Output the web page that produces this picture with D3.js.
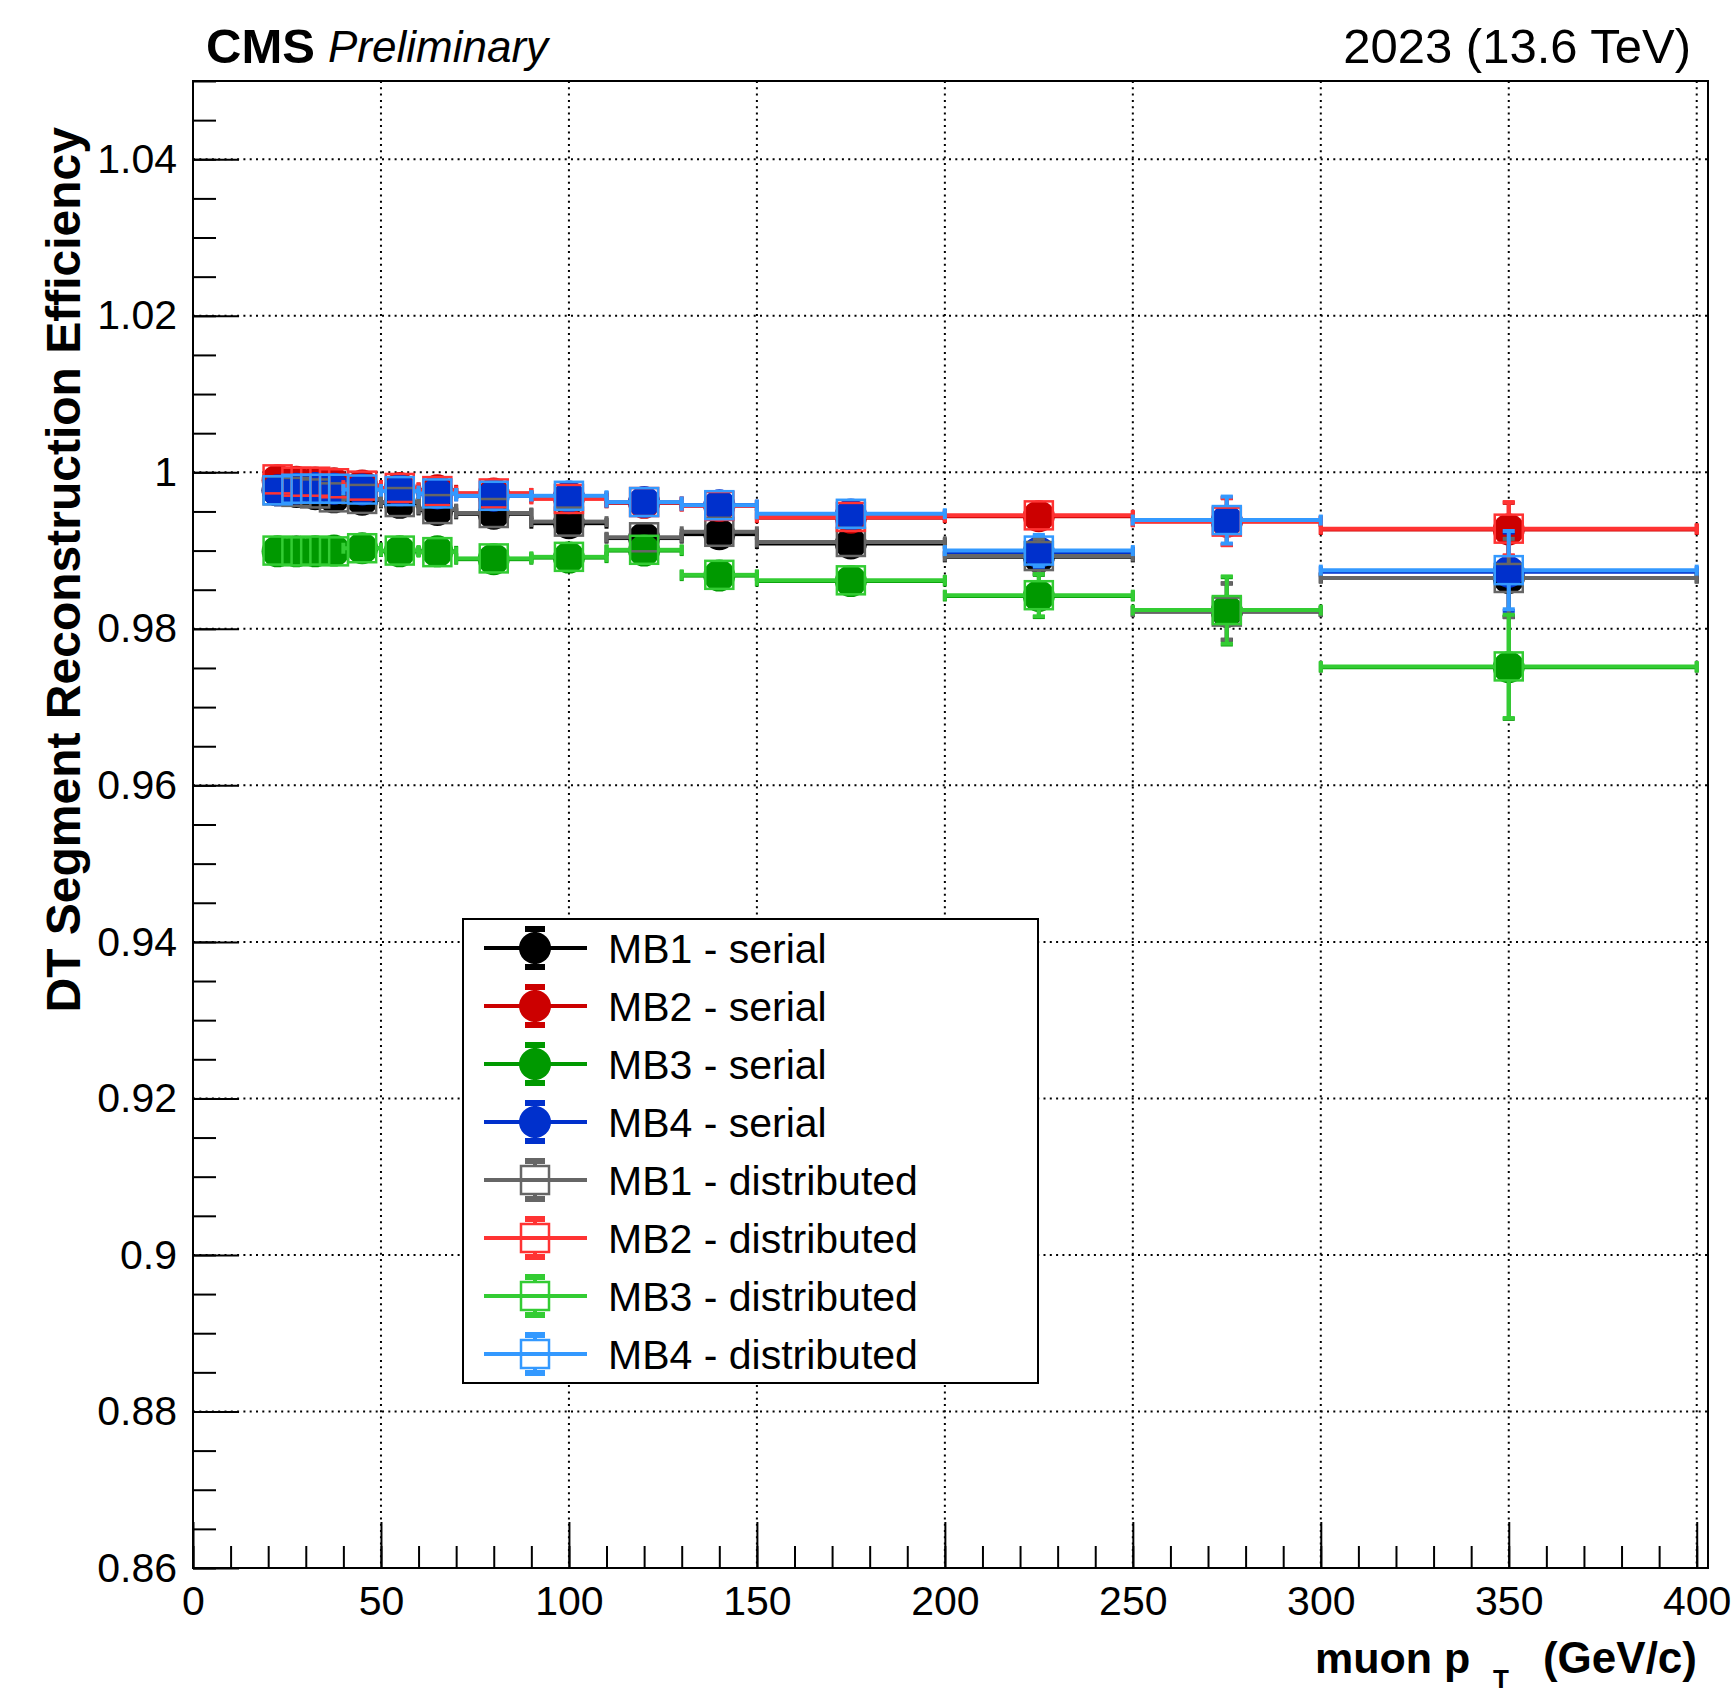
<!DOCTYPE html>
<html>
<head>
<meta charset="utf-8">
<script src="https://cdn.jsdelivr.net/npm/d3@7"></script>
<style>
  body { margin: 0; background: #fff; }
  text { font-family: "Liberation Sans", Arial, Helvetica, sans-serif; }
</style>
</head>
<body>
<script>
// muon pT bins (GeV/c)
const binCenters    = [22.5, 27.5, 32.5, 37.5, 45, 55, 65, 80, 100, 120, 140, 175, 225, 275, 350];
const binHalfWidths = [2.5, 2.5, 2.5, 2.5, 5, 5, 5, 10, 10, 10, 10, 25, 25, 25, 50];

// efficiencies, serial unpacker
const effMB1Serial = [0.9977, 0.9975, 0.9972, 0.9968, 0.9965, 0.9961, 0.9952, 0.9947, 0.9935, 0.9916, 0.9921, 0.9909, 0.9892, 0.9822, 0.9865];
const effMB2Serial = [0.9990, 0.9988, 0.9987, 0.9986, 0.9983, 0.9980, 0.9977, 0.9973, 0.9967, 0.9961, 0.9957, 0.9942, 0.9944, 0.9937, 0.9927];
const effMB3Serial = [0.9899, 0.9899, 0.9899, 0.9900, 0.9903, 0.9899, 0.9899, 0.9889, 0.9891, 0.9900, 0.9868, 0.9861, 0.9842, 0.9823, 0.9751];
const effMB4Serial = [0.9977, 0.9979, 0.9980, 0.9979, 0.9978, 0.9977, 0.9973, 0.9970, 0.9969, 0.9962, 0.9958, 0.9946, 0.9898, 0.9938, 0.9873];

// efficiencies, distributed unpacker
const effMB1Dist = [0.9977, 0.9975, 0.9973, 0.9968, 0.9966, 0.9962, 0.9953, 0.9948, 0.9937, 0.9917, 0.9924, 0.9911, 0.9893, 0.9822, 0.9865];
const effMB2Dist = [0.9991, 0.9988, 0.9988, 0.9986, 0.9983, 0.9980, 0.9976, 0.9973, 0.9966, 0.9962, 0.9957, 0.9943, 0.9945, 0.9937, 0.9928];
const effMB3Dist = [0.9900, 0.9899, 0.9900, 0.9899, 0.9903, 0.9900, 0.9898, 0.9890, 0.9892, 0.9901, 0.9869, 0.9862, 0.9843, 0.9824, 0.9752];
const effMB4Dist = [0.9977, 0.9979, 0.9979, 0.9979, 0.9978, 0.9976, 0.9973, 0.9970, 0.9970, 0.9962, 0.9958, 0.9947, 0.9900, 0.9939, 0.9875];

// statistical errors per station
const errMB1 = [0.0006, 0.0006, 0.0006, 0.0006, 0.0005, 0.0006, 0.0007, 0.0007, 0.0009, 0.0012, 0.0013, 0.0013, 0.0022, 0.0036, 0.0050];
const errMB2 = [0.0004, 0.0004, 0.0004, 0.0004, 0.0003, 0.0004, 0.0005, 0.0005, 0.0006, 0.0008, 0.0009, 0.0009, 0.0015, 0.0030, 0.0034];
const errMB3 = [0.0008, 0.0008, 0.0008, 0.0008, 0.0007, 0.0008, 0.0009, 0.0010, 0.0012, 0.0015, 0.0017, 0.0017, 0.0027, 0.0043, 0.0066];
const errMB4 = [0.0005, 0.0005, 0.0005, 0.0005, 0.0004, 0.0005, 0.0006, 0.0006, 0.0008, 0.0010, 0.0011, 0.0012, 0.0020, 0.0030, 0.0050];

const seriesLabels = ["MB1 - serial", "MB2 - serial", "MB3 - serial", "MB4 - serial",
                      "MB1 - distributed", "MB2 - distributed", "MB3 - distributed", "MB4 - distributed"];

const xTickValues = [0, 50, 100, 150, 200, 250, 300, 350, 400];
const yTickValues = [0.86, 0.88, 0.9, 0.92, 0.94, 0.96, 0.98, 1, 1.02, 1.04];

const series = [
	{ values: effMB1Serial, errors: errMB1, color: "#000000", filled: true },
	{ values: effMB2Serial, errors: errMB2, color: "#cc0000", filled: true },
	{ values: effMB3Serial, errors: errMB3, color: "#009900", filled: true },
	{ values: effMB4Serial, errors: errMB4, color: "#0030cc", filled: true },
	{ values: effMB1Dist, errors: errMB1, color: "#666666", filled: false },
	{ values: effMB2Dist, errors: errMB2, color: "#ff3333", filled: false },
	{ values: effMB3Dist, errors: errMB3, color: "#33cc33", filled: false },
	{ values: effMB4Dist, errors: errMB4, color: "#3399ff", filled: false }
].map((s, i) => ({ ...s, label: seriesLabels[i] }));

const width = 1731, height = 1695;
const frame = { left: 193, right: 1708, top: 81, bottom: 1568 };
const markerHalf = 14, circleR = 16;

const svg = d3.select("body").append("svg")
	.attr("width", width)
	.attr("height", height);

const x = d3.scaleLinear().domain([0, 403]).range([frame.left, frame.right]);
const y = d3.scaleLinear().domain([0.86, 1.05]).range([frame.bottom, frame.top]);

// grid
const grid = svg.append("g")
	.attr("stroke", "#000")
	.attr("stroke-width", 2)
	.attr("stroke-dasharray", "2 4.3");

grid.selectAll(".gx")
	.data(xTickValues.filter(d => d > 0))
	.join("line")
	.attr("x1", d => x(d)).attr("x2", d => x(d))
	.attr("y1", frame.top).attr("y2", frame.bottom);

grid.selectAll(".gy")
	.data(yTickValues.filter(d => d > 0.86))
	.join("line")
	.attr("x1", frame.left).attr("x2", frame.right)
	.attr("y1", d => y(d)).attr("y2", d => y(d));

// data
const dataLayer = svg.append("g");

function drawSeries(s) {
	const g = dataLayer.append("g")
		.attr("stroke", s.color)
		.attr("stroke-width", 4);

	const pts = binCenters.map((c, i) => ({
		cx: x(c),
		cy: y(s.values[i]),
		xl: x(c - binHalfWidths[i]),
		xr: x(c + binHalfWidths[i]),
		yt: y(s.values[i] + s.errors[i]),
		yb: y(s.values[i] - s.errors[i])
	}));

	// bars start outside the marker, like ROOT does
	let segs = [];
	pts.forEach(p => {
		if (p.cx - p.xl > markerHalf) {
			segs.push([p.xl, p.cy, p.cx - markerHalf, p.cy]);
			segs.push([p.xl, p.cy - 5.5, p.xl, p.cy + 5.5]);
		}
		if (p.xr - p.cx > markerHalf) {
			segs.push([p.cx + markerHalf, p.cy, p.xr, p.cy]);
			segs.push([p.xr, p.cy - 5.5, p.xr, p.cy + 5.5]);
		}
		if (p.cy - p.yt > markerHalf) {
			segs.push([p.cx, p.cy - markerHalf, p.cx, p.yt]);
			segs.push([p.cx - 6, p.yt, p.cx + 6, p.yt]);
		}
		if (p.yb - p.cy > markerHalf) {
			segs.push([p.cx, p.cy + markerHalf, p.cx, p.yb]);
			segs.push([p.cx - 6, p.yb, p.cx + 6, p.yb]);
		}
	});

	g.selectAll("line")
		.data(segs)
		.join("line")
		.attr("x1", d => d[0]).attr("y1", d => d[1])
		.attr("x2", d => d[2]).attr("y2", d => d[3]);

	if (s.filled) {
		g.selectAll("circle")
			.data(pts)
			.join("circle")
			.attr("cx", d => d.cx)
			.attr("cy", d => d.cy)
			.attr("r", circleR)
			.attr("fill", s.color)
			.attr("stroke", "none");
	} else {
		g.selectAll("rect")
			.data(pts)
			.join("rect")
			.attr("x", d => d.cx - markerHalf)
			.attr("y", d => d.cy - markerHalf)
			.attr("width", markerHalf * 2)
			.attr("height", markerHalf * 2)
			.attr("fill", "none")
			.attr("stroke-width", 2.5);
	}
}

series.forEach(drawSeries);

// frame
svg.append("rect")
	.attr("x", frame.left).attr("y", frame.top)
	.attr("width", frame.right - frame.left)
	.attr("height", frame.bottom - frame.top)
	.attr("fill", "none")
	.attr("stroke", "#000")
	.attr("stroke-width", 2);

// axes
function styleAxis(g) {
	g.select(".domain").remove();
	g.attr("font-family", null).attr("font-size", 41);
	g.selectAll(".tick line").attr("stroke", "#000").attr("stroke-width", 2);
	g.selectAll(".tick text").attr("fill", "#000");
}

svg.append("g")
	.attr("transform", `translate(0,${frame.bottom})`)
	.call(d3.axisBottom(x).tickValues(d3.range(0, 401, 10)).tickSize(-22).tickFormat(""))
	.call(styleAxis);

svg.append("g")
	.attr("transform", `translate(0,${frame.bottom})`)
	.call(d3.axisBottom(x).tickValues(xTickValues).tickSize(-46).tickPadding(18).tickFormat(d3.format("d")))
	.call(styleAxis);

svg.append("g")
	.attr("transform", `translate(${frame.left},0)`)
	.call(d3.axisLeft(y).tickValues(d3.range(0, 39).map(i => 0.86 + i * 0.005)).tickSize(-23).tickFormat(""))
	.call(styleAxis);

svg.append("g")
	.attr("transform", `translate(${frame.left},0)`)
	.call(d3.axisLeft(y).tickValues(yTickValues).tickSize(-46).tickPadding(16).tickFormat(d => String(+d.toFixed(2))))
	.call(styleAxis);

// titles
svg.append("text")
	.attr("transform", `translate(80,${frame.top + 46}) rotate(-90)`)
	.attr("text-anchor", "end")
	.attr("font-size", 48)
	.attr("font-weight", "bold")
	.text("DT Segment Reconstruction Efficiency");

const xTitle = svg.append("g").attr("font-weight", "bold");
xTitle.append("text")
	.attr("x", 1315).attr("y", 1673)
	.attr("font-size", 43)
	.text("muon p");
xTitle.append("text")
	.attr("x", 1493).attr("y", 1688)
	.attr("font-size", 26)
	.text("T");
xTitle.append("text")
	.attr("x", 1697).attr("y", 1673)
	.attr("text-anchor", "end")
	.attr("font-size", 44)
	.text("(GeV/c)");

svg.append("text")
	.attr("x", 206).attr("y", 63)
	.attr("font-size", 49)
	.attr("font-weight", "bold")
	.text("CMS");

svg.append("text")
	.attr("x", 328).attr("y", 62)
	.attr("font-size", 44)
	.attr("font-style", "italic")
	.text("Preliminary");

svg.append("text")
	.attr("x", 1691).attr("y", 63)
	.attr("text-anchor", "end")
	.attr("font-size", 49)
	.text("2023 (13.6 TeV)");

// legend
const legendBox = { x: 463, y: 919, w: 575, h: 464 };
const rowH = legendBox.h / series.length;
const legend = svg.append("g");

legend.append("rect")
	.attr("x", legendBox.x).attr("y", legendBox.y)
	.attr("width", legendBox.w).attr("height", legendBox.h)
	.attr("fill", "#fff")
	.attr("stroke", "#000")
	.attr("stroke-width", 2);

const entry = legend.selectAll(".entry")
	.data(series)
	.join("g")
	.attr("transform", (d, i) => `translate(${legendBox.x},${legendBox.y + rowH / 2 + i * rowH})`);

entry.append("line")
	.attr("x1", 21).attr("x2", 124)
	.attr("stroke", d => d.color)
	.attr("stroke-width", 4);

entry.each(function (d) {
	const e = d3.select(this).append("g").attr("stroke", d.color);
	const inner = d.filled ? 0 : markerHalf;
	e.append("line").attr("x1", 72).attr("x2", 72).attr("y1", -20).attr("y2", -inner).attr("stroke-width", 4);
	e.append("line").attr("x1", 72).attr("x2", 72).attr("y1", inner).attr("y2", 20).attr("stroke-width", 4);
	e.append("line").attr("x1", 62).attr("x2", 82).attr("y1", -19).attr("y2", -19).attr("stroke-width", 6);
	e.append("line").attr("x1", 62).attr("x2", 82).attr("y1", 19).attr("y2", 19).attr("stroke-width", 6);
	if (d.filled) {
		e.append("circle").attr("cx", 72).attr("r", 16).attr("fill", d.color).attr("stroke", "none");
	} else {
		e.append("rect")
			.attr("x", 72 - markerHalf).attr("y", -markerHalf)
			.attr("width", markerHalf * 2).attr("height", markerHalf * 2)
			.attr("fill", "none").attr("stroke-width", 2.5);
	}
});

entry.append("text")
	.attr("x", 145)
	.attr("dy", "0.36em")
	.attr("font-size", 41)
	.text(d => d.label);
</script>
</body>
</html>
